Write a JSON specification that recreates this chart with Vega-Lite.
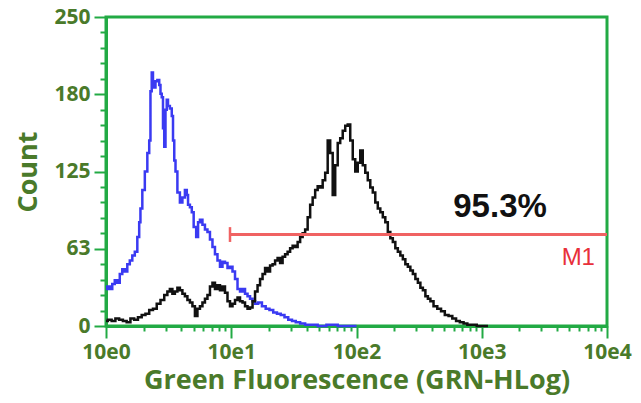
{
  "$schema": "https://vega.github.io/schema/vega-lite/v6.json",
  "width": 501,
  "height": 309,
  "autosize": {"type": "none"},
  "padding": {"left": 106, "top": 17, "right": 34, "bottom": 77},
  "background": "white",
  "config": {
    "view": {"stroke": "#22aa44", "strokeWidth": 3},
    "axis": {
      "domainColor": "#22aa44",
      "domainWidth": 3,
      "tickColor": "#22aa44",
      "tickWidth": 2,
      "labelColor": "#4a7a2a",
      "labelFont": "Open Sans",
      "labelFontWeight": "bold",
      "labelFontSize": 21,
      "labelFlush": false,
      "labelOverlap": false,
      "titleColor": "#4a7a2a",
      "titleFont": "Open Sans",
      "titleFontWeight": "bold",
      "grid": false
    }
  },
  "datasets": {
    "histogram": [
      {"series": "Control", "log_fluorescence": 0.00, "count": 30},
      {"series": "Control", "log_fluorescence": 0.02, "count": 32},
      {"series": "Control", "log_fluorescence": 0.04, "count": 30},
      {"series": "Control", "log_fluorescence": 0.06, "count": 34},
      {"series": "Control", "log_fluorescence": 0.08, "count": 37},
      {"series": "Control", "log_fluorescence": 0.10, "count": 35},
      {"series": "Control", "log_fluorescence": 0.12, "count": 42},
      {"series": "Control", "log_fluorescence": 0.14, "count": 46},
      {"series": "Control", "log_fluorescence": 0.16, "count": 44},
      {"series": "Control", "log_fluorescence": 0.18, "count": 50},
      {"series": "Control", "log_fluorescence": 0.20, "count": 53},
      {"series": "Control", "log_fluorescence": 0.22, "count": 57},
      {"series": "Control", "log_fluorescence": 0.24, "count": 60},
      {"series": "Control", "log_fluorescence": 0.26, "count": 72},
      {"series": "Control", "log_fluorescence": 0.27, "count": 84},
      {"series": "Control", "log_fluorescence": 0.28, "count": 95},
      {"series": "Control", "log_fluorescence": 0.30, "count": 110},
      {"series": "Control", "log_fluorescence": 0.32, "count": 125},
      {"series": "Control", "log_fluorescence": 0.34, "count": 140},
      {"series": "Control", "log_fluorescence": 0.35, "count": 150},
      {"series": "Control", "log_fluorescence": 0.36, "count": 190},
      {"series": "Control", "log_fluorescence": 0.37, "count": 205},
      {"series": "Control", "log_fluorescence": 0.38, "count": 196},
      {"series": "Control", "log_fluorescence": 0.39, "count": 193},
      {"series": "Control", "log_fluorescence": 0.40, "count": 198},
      {"series": "Control", "log_fluorescence": 0.42, "count": 199},
      {"series": "Control", "log_fluorescence": 0.43, "count": 195},
      {"series": "Control", "log_fluorescence": 0.44, "count": 188},
      {"series": "Control", "log_fluorescence": 0.45, "count": 185},
      {"series": "Control", "log_fluorescence": 0.46, "count": 160},
      {"series": "Control", "log_fluorescence": 0.47, "count": 145},
      {"series": "Control", "log_fluorescence": 0.48, "count": 175},
      {"series": "Control", "log_fluorescence": 0.49, "count": 183},
      {"series": "Control", "log_fluorescence": 0.50, "count": 178},
      {"series": "Control", "log_fluorescence": 0.52, "count": 176},
      {"series": "Control", "log_fluorescence": 0.53, "count": 170},
      {"series": "Control", "log_fluorescence": 0.54, "count": 150},
      {"series": "Control", "log_fluorescence": 0.55, "count": 134},
      {"series": "Control", "log_fluorescence": 0.56, "count": 125},
      {"series": "Control", "log_fluorescence": 0.58, "count": 108},
      {"series": "Control", "log_fluorescence": 0.60, "count": 100},
      {"series": "Control", "log_fluorescence": 0.62, "count": 104},
      {"series": "Control", "log_fluorescence": 0.64, "count": 110},
      {"series": "Control", "log_fluorescence": 0.65, "count": 106},
      {"series": "Control", "log_fluorescence": 0.66, "count": 98},
      {"series": "Control", "log_fluorescence": 0.68, "count": 96},
      {"series": "Control", "log_fluorescence": 0.69, "count": 92},
      {"series": "Control", "log_fluorescence": 0.71, "count": 80},
      {"series": "Control", "log_fluorescence": 0.73, "count": 72},
      {"series": "Control", "log_fluorescence": 0.74, "count": 84},
      {"series": "Control", "log_fluorescence": 0.76, "count": 86},
      {"series": "Control", "log_fluorescence": 0.78, "count": 82},
      {"series": "Control", "log_fluorescence": 0.80, "count": 78},
      {"series": "Control", "log_fluorescence": 0.82, "count": 76},
      {"series": "Control", "log_fluorescence": 0.84, "count": 70},
      {"series": "Control", "log_fluorescence": 0.86, "count": 64},
      {"series": "Control", "log_fluorescence": 0.88, "count": 58},
      {"series": "Control", "log_fluorescence": 0.90, "count": 53},
      {"series": "Control", "log_fluorescence": 0.92, "count": 48},
      {"series": "Control", "log_fluorescence": 0.94, "count": 52},
      {"series": "Control", "log_fluorescence": 0.96, "count": 51},
      {"series": "Control", "log_fluorescence": 0.98, "count": 47},
      {"series": "Control", "log_fluorescence": 1.00, "count": 48},
      {"series": "Control", "log_fluorescence": 1.02, "count": 44},
      {"series": "Control", "log_fluorescence": 1.04, "count": 38},
      {"series": "Control", "log_fluorescence": 1.06, "count": 30},
      {"series": "Control", "log_fluorescence": 1.08, "count": 28},
      {"series": "Control", "log_fluorescence": 1.10, "count": 30},
      {"series": "Control", "log_fluorescence": 1.12, "count": 26},
      {"series": "Control", "log_fluorescence": 1.14, "count": 24},
      {"series": "Control", "log_fluorescence": 1.16, "count": 22},
      {"series": "Control", "log_fluorescence": 1.18, "count": 20},
      {"series": "Control", "log_fluorescence": 1.20, "count": 18},
      {"series": "Control", "log_fluorescence": 1.23, "count": 19},
      {"series": "Control", "log_fluorescence": 1.26, "count": 16},
      {"series": "Control", "log_fluorescence": 1.29, "count": 14},
      {"series": "Control", "log_fluorescence": 1.32, "count": 13},
      {"series": "Control", "log_fluorescence": 1.35, "count": 11},
      {"series": "Control", "log_fluorescence": 1.38, "count": 10},
      {"series": "Control", "log_fluorescence": 1.41, "count": 9},
      {"series": "Control", "log_fluorescence": 1.44, "count": 7},
      {"series": "Control", "log_fluorescence": 1.47, "count": 5},
      {"series": "Control", "log_fluorescence": 1.50, "count": 4},
      {"series": "Control", "log_fluorescence": 1.53, "count": 3},
      {"series": "Control", "log_fluorescence": 1.57, "count": 2},
      {"series": "Control", "log_fluorescence": 1.61, "count": 1},
      {"series": "Control", "log_fluorescence": 1.66, "count": 1},
      {"series": "Control", "log_fluorescence": 1.72, "count": 0},
      {"series": "Control", "log_fluorescence": 1.80, "count": 1},
      {"series": "Control", "log_fluorescence": 1.90, "count": 0},
      {"series": "Control", "log_fluorescence": 2.00, "count": 0},
      {"series": "Sample", "log_fluorescence": 0.00, "count": 4},
      {"series": "Sample", "log_fluorescence": 0.03, "count": 5},
      {"series": "Sample", "log_fluorescence": 0.06, "count": 4},
      {"series": "Sample", "log_fluorescence": 0.09, "count": 6},
      {"series": "Sample", "log_fluorescence": 0.12, "count": 5},
      {"series": "Sample", "log_fluorescence": 0.15, "count": 4},
      {"series": "Sample", "log_fluorescence": 0.18, "count": 3},
      {"series": "Sample", "log_fluorescence": 0.21, "count": 6},
      {"series": "Sample", "log_fluorescence": 0.24, "count": 5},
      {"series": "Sample", "log_fluorescence": 0.27, "count": 7},
      {"series": "Sample", "log_fluorescence": 0.30, "count": 9},
      {"series": "Sample", "log_fluorescence": 0.33, "count": 10},
      {"series": "Sample", "log_fluorescence": 0.36, "count": 13},
      {"series": "Sample", "log_fluorescence": 0.39, "count": 14},
      {"series": "Sample", "log_fluorescence": 0.42, "count": 18},
      {"series": "Sample", "log_fluorescence": 0.45, "count": 21},
      {"series": "Sample", "log_fluorescence": 0.48, "count": 25},
      {"series": "Sample", "log_fluorescence": 0.50, "count": 28},
      {"series": "Sample", "log_fluorescence": 0.52, "count": 30},
      {"series": "Sample", "log_fluorescence": 0.54, "count": 26},
      {"series": "Sample", "log_fluorescence": 0.56, "count": 28},
      {"series": "Sample", "log_fluorescence": 0.58, "count": 31},
      {"series": "Sample", "log_fluorescence": 0.60, "count": 29},
      {"series": "Sample", "log_fluorescence": 0.62, "count": 26},
      {"series": "Sample", "log_fluorescence": 0.64, "count": 24},
      {"series": "Sample", "log_fluorescence": 0.66, "count": 21},
      {"series": "Sample", "log_fluorescence": 0.68, "count": 19},
      {"series": "Sample", "log_fluorescence": 0.70, "count": 16},
      {"series": "Sample", "log_fluorescence": 0.72, "count": 8},
      {"series": "Sample", "log_fluorescence": 0.74, "count": 14},
      {"series": "Sample", "log_fluorescence": 0.76, "count": 16},
      {"series": "Sample", "log_fluorescence": 0.78, "count": 19},
      {"series": "Sample", "log_fluorescence": 0.80, "count": 22},
      {"series": "Sample", "log_fluorescence": 0.82, "count": 25},
      {"series": "Sample", "log_fluorescence": 0.84, "count": 32},
      {"series": "Sample", "log_fluorescence": 0.86, "count": 35},
      {"series": "Sample", "log_fluorescence": 0.88, "count": 30},
      {"series": "Sample", "log_fluorescence": 0.90, "count": 33},
      {"series": "Sample", "log_fluorescence": 0.92, "count": 29},
      {"series": "Sample", "log_fluorescence": 0.94, "count": 32},
      {"series": "Sample", "log_fluorescence": 0.96, "count": 27},
      {"series": "Sample", "log_fluorescence": 0.98, "count": 20},
      {"series": "Sample", "log_fluorescence": 1.00, "count": 16},
      {"series": "Sample", "log_fluorescence": 1.02, "count": 18},
      {"series": "Sample", "log_fluorescence": 1.04, "count": 21},
      {"series": "Sample", "log_fluorescence": 1.06, "count": 23},
      {"series": "Sample", "log_fluorescence": 1.08, "count": 20},
      {"series": "Sample", "log_fluorescence": 1.10, "count": 19},
      {"series": "Sample", "log_fluorescence": 1.12, "count": 16},
      {"series": "Sample", "log_fluorescence": 1.14, "count": 14},
      {"series": "Sample", "log_fluorescence": 1.16, "count": 15},
      {"series": "Sample", "log_fluorescence": 1.18, "count": 20},
      {"series": "Sample", "log_fluorescence": 1.20, "count": 28},
      {"series": "Sample", "log_fluorescence": 1.22, "count": 33},
      {"series": "Sample", "log_fluorescence": 1.24, "count": 38},
      {"series": "Sample", "log_fluorescence": 1.26, "count": 42},
      {"series": "Sample", "log_fluorescence": 1.28, "count": 47},
      {"series": "Sample", "log_fluorescence": 1.30, "count": 44},
      {"series": "Sample", "log_fluorescence": 1.32, "count": 49},
      {"series": "Sample", "log_fluorescence": 1.34, "count": 50},
      {"series": "Sample", "log_fluorescence": 1.36, "count": 53},
      {"series": "Sample", "log_fluorescence": 1.38, "count": 55},
      {"series": "Sample", "log_fluorescence": 1.40, "count": 51},
      {"series": "Sample", "log_fluorescence": 1.42, "count": 56},
      {"series": "Sample", "log_fluorescence": 1.44, "count": 58},
      {"series": "Sample", "log_fluorescence": 1.46, "count": 60},
      {"series": "Sample", "log_fluorescence": 1.48, "count": 63},
      {"series": "Sample", "log_fluorescence": 1.50, "count": 65},
      {"series": "Sample", "log_fluorescence": 1.52, "count": 64},
      {"series": "Sample", "log_fluorescence": 1.54, "count": 68},
      {"series": "Sample", "log_fluorescence": 1.56, "count": 72},
      {"series": "Sample", "log_fluorescence": 1.58, "count": 75},
      {"series": "Sample", "log_fluorescence": 1.60, "count": 78},
      {"series": "Sample", "log_fluorescence": 1.62, "count": 88},
      {"series": "Sample", "log_fluorescence": 1.64, "count": 98},
      {"series": "Sample", "log_fluorescence": 1.66, "count": 104},
      {"series": "Sample", "log_fluorescence": 1.68, "count": 110},
      {"series": "Sample", "log_fluorescence": 1.70, "count": 113},
      {"series": "Sample", "log_fluorescence": 1.72, "count": 112},
      {"series": "Sample", "log_fluorescence": 1.74, "count": 118},
      {"series": "Sample", "log_fluorescence": 1.76, "count": 124},
      {"series": "Sample", "log_fluorescence": 1.78, "count": 150},
      {"series": "Sample", "log_fluorescence": 1.80, "count": 140},
      {"series": "Sample", "log_fluorescence": 1.82, "count": 106},
      {"series": "Sample", "log_fluorescence": 1.84, "count": 130},
      {"series": "Sample", "log_fluorescence": 1.86, "count": 148},
      {"series": "Sample", "log_fluorescence": 1.88, "count": 152},
      {"series": "Sample", "log_fluorescence": 1.90, "count": 158},
      {"series": "Sample", "log_fluorescence": 1.92, "count": 162},
      {"series": "Sample", "log_fluorescence": 1.94, "count": 163},
      {"series": "Sample", "log_fluorescence": 1.96, "count": 150},
      {"series": "Sample", "log_fluorescence": 1.98, "count": 135},
      {"series": "Sample", "log_fluorescence": 2.00, "count": 125},
      {"series": "Sample", "log_fluorescence": 2.02, "count": 132},
      {"series": "Sample", "log_fluorescence": 2.04, "count": 142},
      {"series": "Sample", "log_fluorescence": 2.06, "count": 130},
      {"series": "Sample", "log_fluorescence": 2.08, "count": 124},
      {"series": "Sample", "log_fluorescence": 2.10, "count": 118},
      {"series": "Sample", "log_fluorescence": 2.12, "count": 112},
      {"series": "Sample", "log_fluorescence": 2.14, "count": 108},
      {"series": "Sample", "log_fluorescence": 2.16, "count": 100},
      {"series": "Sample", "log_fluorescence": 2.18, "count": 95},
      {"series": "Sample", "log_fluorescence": 2.20, "count": 92},
      {"series": "Sample", "log_fluorescence": 2.22, "count": 88},
      {"series": "Sample", "log_fluorescence": 2.24, "count": 84},
      {"series": "Sample", "log_fluorescence": 2.26, "count": 76},
      {"series": "Sample", "log_fluorescence": 2.28, "count": 71},
      {"series": "Sample", "log_fluorescence": 2.30, "count": 68},
      {"series": "Sample", "log_fluorescence": 2.32, "count": 63},
      {"series": "Sample", "log_fluorescence": 2.34, "count": 60},
      {"series": "Sample", "log_fluorescence": 2.36, "count": 57},
      {"series": "Sample", "log_fluorescence": 2.38, "count": 54},
      {"series": "Sample", "log_fluorescence": 2.40, "count": 50},
      {"series": "Sample", "log_fluorescence": 2.42, "count": 48},
      {"series": "Sample", "log_fluorescence": 2.44, "count": 45},
      {"series": "Sample", "log_fluorescence": 2.46, "count": 42},
      {"series": "Sample", "log_fluorescence": 2.48, "count": 38},
      {"series": "Sample", "log_fluorescence": 2.50, "count": 35},
      {"series": "Sample", "log_fluorescence": 2.52, "count": 31},
      {"series": "Sample", "log_fluorescence": 2.54, "count": 29},
      {"series": "Sample", "log_fluorescence": 2.56, "count": 24},
      {"series": "Sample", "log_fluorescence": 2.58, "count": 22},
      {"series": "Sample", "log_fluorescence": 2.60, "count": 20},
      {"series": "Sample", "log_fluorescence": 2.63, "count": 16},
      {"series": "Sample", "log_fluorescence": 2.66, "count": 14},
      {"series": "Sample", "log_fluorescence": 2.69, "count": 12},
      {"series": "Sample", "log_fluorescence": 2.72, "count": 9},
      {"series": "Sample", "log_fluorescence": 2.75, "count": 8},
      {"series": "Sample", "log_fluorescence": 2.78, "count": 6},
      {"series": "Sample", "log_fluorescence": 2.81, "count": 4},
      {"series": "Sample", "log_fluorescence": 2.84, "count": 3},
      {"series": "Sample", "log_fluorescence": 2.87, "count": 2},
      {"series": "Sample", "log_fluorescence": 2.90, "count": 1},
      {"series": "Sample", "log_fluorescence": 2.94, "count": 1},
      {"series": "Sample", "log_fluorescence": 2.98, "count": 0},
      {"series": "Sample", "log_fluorescence": 3.05, "count": 0}
    ],
    "marker": [
      {"name": "M1", "log_fluorescence": 0.99, "log_fluorescence_end": 4.0, "count": 74, "cap_low": 68, "cap_high": 80, "percent": "95.3%", "label_x": 3.146, "label_y": 88, "name_x": 3.904, "name_y": 49.5}
    ]
  },
  "layer": [
    {
      "data": {"name": "histogram"},
      "mark": {"type": "line", "interpolate": "step", "strokeWidth": 2.5},
      "encoding": {
        "x": {
          "field": "log_fluorescence",
          "type": "quantitative",
          "scale": {"domain": [0, 4], "nice": false, "zero": false},
          "axis": {
            "title": "Green Fluorescence (GRN-HLog)",
            "titleFontSize": 27,
            "titlePadding": 5,
            "values": [0, 0.301, 0.477, 0.602, 0.699, 0.778, 0.845, 0.903, 0.954, 1, 1.301, 1.477, 1.602, 1.699, 1.778, 1.845, 1.903, 1.954, 2, 2.301, 2.477, 2.602, 2.699, 2.778, 2.845, 2.903, 2.954, 3, 3.301, 3.477, 3.602, 3.699, 3.778, 3.845, 3.903, 3.954, 4],
            "tickCount": 100,
            "labelExpr": "indexof([0,1,2,3,4], datum.value) >= 0 ? '10e' + datum.value : ''",
            "labelPadding": 3,
            "tickSize": 12,
            "tickDash": {"condition": {"test": "indexof([0,1,2,3,4], datum.value) >= 0", "value": [12, 0]}, "value": [5, 20]}
          }
        },
        "y": {
          "field": "count",
          "type": "quantitative",
          "scale": {"domain": [0, 250], "nice": false},
          "axis": {
            "title": "Count",
            "titleFontSize": 27,
            "titlePadding": 11,
            "values": [0, 12.5, 25, 37.5, 50, 62.5, 75, 87.5, 100, 112.5, 125, 137.5, 150, 162.5, 175, 187.5, 200, 212.5, 225, 237.5, 250],
            "tickCount": 100,
            "labelExpr": "datum.value == 187.5 ? '180' : datum.value == 62.5 ? '63' : (datum.value == 0 || datum.value == 125 || datum.value == 250) ? '' + datum.value : ''",
            "labelPadding": 4,
            "tickSize": 12,
            "tickDash": {"condition": {"test": "datum.value % 62.5 == 0", "value": [12, 0]}, "value": [6, 20]}
          }
        },
        "color": {
          "field": "series",
          "type": "nominal",
          "scale": {"domain": ["Control", "Sample"], "range": ["#3a3af2", "#111111"]},
          "legend": null
        }
      }
    },
    {
      "data": {"name": "marker"},
      "mark": {"type": "rule", "color": "#f06262", "strokeWidth": 3},
      "encoding": {
        "x": {"field": "log_fluorescence", "type": "quantitative"},
        "x2": {"field": "log_fluorescence_end"},
        "y": {"field": "count", "type": "quantitative"}
      }
    },
    {
      "data": {"name": "marker"},
      "mark": {"type": "rule", "color": "#f06262", "strokeWidth": 2.5},
      "encoding": {
        "x": {"field": "log_fluorescence", "type": "quantitative"},
        "y": {"field": "cap_low", "type": "quantitative"},
        "y2": {"field": "cap_high"}
      }
    },
    {
      "data": {"name": "marker"},
      "mark": {"type": "text", "font": "Liberation Sans", "fontWeight": "bold", "fontSize": 33, "color": "#111111", "align": "center", "baseline": "alphabetic"},
      "encoding": {
        "x": {"field": "label_x", "type": "quantitative"},
        "y": {"field": "label_y", "type": "quantitative"},
        "text": {"field": "percent"}
      }
    },
    {
      "data": {"name": "marker"},
      "mark": {"type": "text", "font": "Liberation Sans", "fontSize": 24, "color": "#e8303a", "align": "right", "baseline": "alphabetic"},
      "encoding": {
        "x": {"field": "name_x", "type": "quantitative"},
        "y": {"field": "name_y", "type": "quantitative"},
        "text": {"field": "name"}
      }
    }
  ]
}
